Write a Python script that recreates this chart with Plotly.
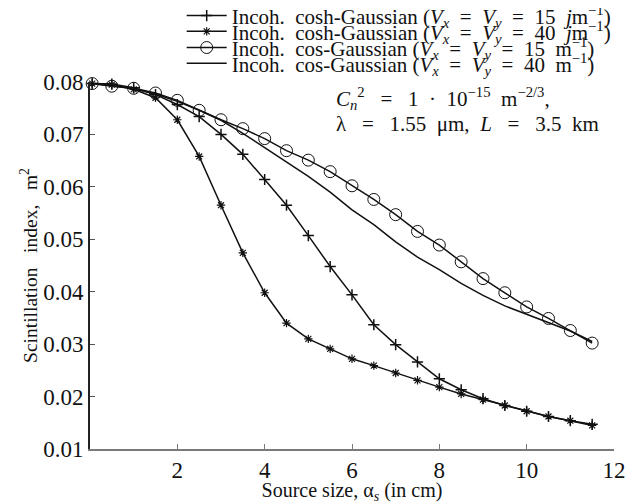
import plotly.graph_objects as go

xs = [0.05, 0.5, 1.0, 1.5, 2.0, 2.5, 3.0, 3.5, 4.0, 4.5, 5.0, 5.5,
      6.0, 6.5, 7.0, 7.5, 8.0, 8.5, 9.0, 9.5, 10.0, 10.5, 11.0, 11.5]

cosh_15 = [0.0797, 0.0796, 0.0789, 0.0776, 0.0757, 0.0734, 0.0700, 0.0662,
           0.0614, 0.0565, 0.0507, 0.0448, 0.0394, 0.0337, 0.0299, 0.0266,
           0.0234, 0.0213, 0.0196, 0.0183, 0.0172, 0.0162, 0.0154, 0.0147]

cosh_40 = [0.0797, 0.0795, 0.0786, 0.0770, 0.0728, 0.0658, 0.0565, 0.0474,
           0.0398, 0.0340, 0.0310, 0.0291, 0.0272, 0.0259, 0.0245, 0.0231,
           0.0218, 0.0205, 0.0194, 0.0183, 0.0172, 0.0162, 0.0154, 0.0145]

cos_15 = [0.0797, 0.0792, 0.0788, 0.0779, 0.0765, 0.0746, 0.0728, 0.0711,
          0.0692, 0.0669, 0.0651, 0.0629, 0.0602, 0.0576, 0.0547, 0.0515,
          0.0489, 0.0457, 0.0425, 0.0398, 0.0371, 0.0349, 0.0326, 0.0302]

cos_40 = [0.0797, 0.0793, 0.0787, 0.0777, 0.0763, 0.0746, 0.0727, 0.0702,
          0.0675, 0.0648, 0.0620, 0.0590, 0.0556, 0.0528, 0.0495, 0.0466,
          0.0442, 0.0416, 0.0393, 0.0373, 0.0357, 0.0341, 0.0325, 0.0305]

SP = "&nbsp;"
EQ = SP * 2 + "=" + SP * 2
names = [
    "Incoh." + SP * 2 + "cosh-Gaussian (<i>V<sub>x</sub></i>" + EQ + "<i>V<sub>y</sub></i>" + EQ + "15" + SP * 2 + "<i>j</i>m<sup>−1</sup>)",
    "Incoh." + SP * 2 + "cosh-Gaussian (<i>V<sub>x</sub></i>" + EQ + "<i>V<sub>y</sub></i>" + EQ + "40" + SP * 2 + "<i>j</i>m<sup>−1</sup>)",
    "Incoh." + SP * 2 + "cos-Gaussian (<i>V<sub>x</sub></i>" + EQ + "<i>V<sub>y</sub></i>" + EQ + "15" + SP * 2 + "m<sup>−1</sup>)",
    "Incoh." + SP * 2 + "cos-Gaussian (<i>V<sub>x</sub></i>" + EQ + "<i>V<sub>y</sub></i>" + EQ + "40" + SP * 2 + "m<sup>−1</sup>)",
]

x_ticks = [2, 4, 6, 8, 10, 12]
y_ticks = [0.01, 0.02, 0.03, 0.04, 0.05, 0.06, 0.07, 0.08]

FONT = "Liberation Serif"
BLACK = "#111111"

fig = go.Figure()
fig.add_trace(go.Scatter(
    x=xs, y=cosh_15, name=names[0], mode="lines+markers", legend="legend",
    line=dict(color=BLACK, width=1.5),
    marker=dict(symbol="cross-thin", size=8, color=BLACK,
                line=dict(color=BLACK, width=1.5)),
    cliponaxis=False))
fig.add_trace(go.Scatter(
    x=xs, y=cosh_40, name=names[1], mode="lines+markers", legend="legend2",
    line=dict(color=BLACK, width=1.5),
    marker=dict(symbol="asterisk", size=7, color=BLACK,
                line=dict(color=BLACK, width=1.2)),
    cliponaxis=False))
fig.add_trace(go.Scatter(
    x=xs, y=cos_15, name=names[2], mode="lines+markers", legend="legend3",
    line=dict(color=BLACK, width=1.5),
    marker=dict(symbol="circle-open", size=12, color=BLACK,
                line=dict(color=BLACK, width=1)),
    cliponaxis=False))
fig.add_trace(go.Scatter(
    x=xs, y=cos_40, name=names[3], mode="lines", legend="legend4",
    line=dict(color=BLACK, width=1.5),
    cliponaxis=False))

fig.add_annotation(
    xref="paper", yref="paper", x=0.466, y=0.955, xanchor="left", yanchor="middle",
    text=("<i>C<sub>n</sub></i><sup>2</sup>" + SP * 3 + "=" + SP * 3 + "1" + SP * 2 + "·" + SP * 2
          + "10<sup>−15</sup>" + SP * 2 + "m<sup>−2/3</sup>,"),
    showarrow=False, font=dict(family=FONT, size=21, color=BLACK))
fig.add_annotation(
    xref="paper", yref="paper", x=0.466, y=0.885, xanchor="left", yanchor="middle",
    text="λ" + SP * 3 + "=" + SP * 3 + "1.55" + SP * 2 + "μm," + SP * 2 + "<i>L</i>" + SP * 3 + "=" + SP * 3 + "3.5" + SP * 2 + "km",
    showarrow=False, font=dict(family=FONT, size=21, color=BLACK))

leg_common = dict(x=0.175, xanchor="left", yanchor="middle",
                  bgcolor="rgba(0,0,0,0)", borderwidth=0, itemwidth=40,
                  font=dict(family=FONT, size=21, color=BLACK))

fig.update_layout(
    width=632, height=496,
    margin=dict(l=82, r=26, t=74, b=55, autoexpand=False),
    paper_bgcolor="white", plot_bgcolor="white",
    font=dict(family=FONT, size=18, color=BLACK),
    showlegend=True,
    legend=dict(y=1.180, **leg_common),
    legend2=dict(y=1.137, **leg_common),
    legend3=dict(y=1.093, **leg_common),
    legend4=dict(y=1.050, **leg_common),
    xaxis=dict(range=[0, 12], tickvals=x_ticks, ticktext=[str(v) for v in x_ticks],
               showgrid=False, zeroline=False, showline=True,
               linecolor="#7a7a7a", linewidth=1.5, ticks="inside", ticklen=5,
               tickcolor="#7a7a7a", tickfont=dict(family=FONT, size=23, color=BLACK),
               title=dict(text="Source" + SP + "size," + SP + "α<sub><i>s</i></sub>" + SP + "(in" + SP + "cm)", standoff=0,
                          font=dict(family=FONT, size=20, color=BLACK))),
    yaxis=dict(range=[0.01, 0.08], tickvals=y_ticks, ticktext=[f"{v:.2f}" for v in y_ticks],
               showgrid=False, zeroline=False, showline=True,
               linecolor="#222222", linewidth=2, ticks="inside", ticklen=5,
               tickcolor="#555555", tickfont=dict(family=FONT, size=23, color=BLACK),
               ticklabelstandoff=0,
               title=dict(text="Scintillation" + SP * 3 + "index," + SP * 3 + "m<sup>2</sup>", standoff=0,
                          font=dict(family=FONT, size=19.5, color=BLACK))),
)

fig.write_html("out.html")
